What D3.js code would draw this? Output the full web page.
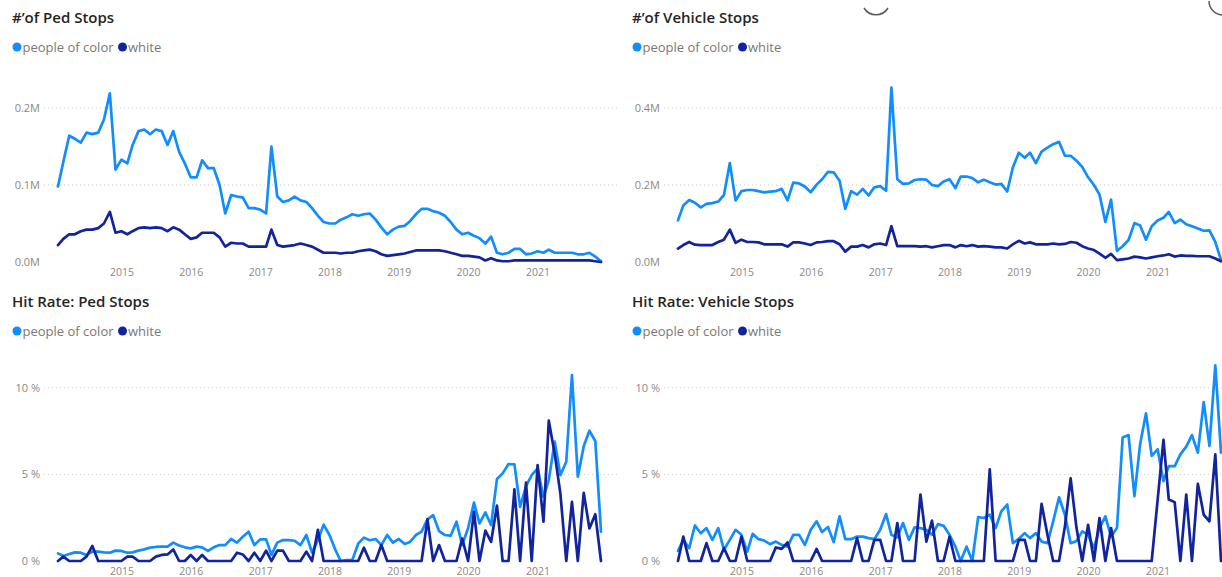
<!DOCTYPE html>
<html>
<head>
<meta charset="utf-8">
<script src="https://cdn.jsdelivr.net/npm/d3@7"></script>
<style>
  html, body { margin: 0; padding: 0; background: #ffffff; }
  svg { display: block; font-family: "Segoe UI", "Open Sans", "Noto Sans", sans-serif; }
</style>
</head>
<body>
<svg id="chart" width="1222" height="577"></svg>
<script>
// ---- categories: monthly, Feb 2014 – Dec 2021 ----
const firstMonth = new Date(2014, 1, 1);
const lastMonthExclusive = new Date(2022, 0, 1);
const months = d3.timeMonth.range(firstMonth, lastMonthExclusive);

const seriesNames = ["people of color", "white"];
const seriesColors = ["#118DFF", "#12239E"];

// ---- # of Ped Stops (thousands) ----
const pedStopsPOC = [98,130,164,160,155,168,166,168,185,219,
  120,133,128,152,170,172,166,172,170,152,
  170,143,128,110,110,132,122,122,100,63,
  87,85,84,70,70,68,63,150,85,78,
  80,85,80,78,70,60,52,50,50,55,
  58,62,60,62,63,55,45,36,42,46,
  47,53,62,69,69,66,64,60,52,42,
  36,38,34,31,24,33,12,10,12,17,
  17,10,11,14,12,16,12,12,12,12,
  10,10,12,7,1];
const pedStopsWhite = [22,30,36,36,40,42,42,44,50,65,
  38,40,36,40,44,45,44,45,44,40,
  45,42,36,30,32,38,38,38,32,20,
  25,24,24,20,20,20,20,42,22,20,
  21,22,24,22,20,16,12,12,12,11,
  12,12,14,15,16,14,10,8,9,10,
  11,13,15,15,15,15,15,14,12,10,
  8,8,7,6,2,5,2,1,1,2,
  2,2,2,2,2,2,2,2,2,2,
  2,2,2,1,0];

// ---- # of Vehicle Stops (thousands) ----
const vehStopsPOC = [108,147,161,154,142,151,153,157,174,257,
  160,184,187,187,184,181,183,184,190,160,
  206,204,196,181,201,215,234,233,211,138,
  184,175,190,173,194,197,185,453,215,203,
  204,213,215,214,200,197,209,215,192,222,
  222,218,207,214,207,201,203,183,246,284,
  271,284,257,287,297,306,312,276,276,263,
  247,220,200,175,104,162,29,41,57,101,
  95,58,93,108,115,130,101,110,98,93,
  87,81,82,52,5];
const vehStopsWhite = [35,44,52,45,44,44,44,52,58,84,
  50,58,52,52,51,46,46,46,46,40,
  51,51,48,44,51,52,54,54,46,27,
  40,40,44,38,46,48,44,93,41,41,
  41,41,40,41,38,41,44,44,38,44,
  41,44,40,41,40,38,38,35,46,55,
  48,51,46,46,46,48,46,47,52,50,
  41,35,31,22,11,21,5,7,9,14,
  12,9,12,15,17,20,14,17,16,16,
  15,15,15,9,2];

// ---- Hit Rate: Ped Stops (%) ----
const pedHitPOC = [0.44,0.29,0.4,0.5,0.48,0.35,0.54,0.54,0.5,0.48,
  0.6,0.58,0.48,0.5,0.6,0.67,0.77,0.81,0.83,0.83,
  1.06,0.9,0.79,0.73,0.83,0.79,0.58,0.79,0.92,0.92,
  1.27,1.06,1.4,1.69,0.92,1.25,1.25,0.35,1.06,1.21,
  1.21,1.17,0.92,1.5,0.48,1.2,2.1,1.5,0.64,0,
  0.05,0.05,1.0,1.35,1.2,1.27,0.92,1.5,1.06,1.27,
  0.98,1.1,1.5,1.7,2.4,2.65,1.73,1.5,1.46,2.27,
  0.92,1.9,3.37,2.17,2.8,2.08,4.73,5.06,5.6,5.58,
  3.13,4.33,4.96,5.35,3.7,4.67,6.9,4.96,5.73,10.73,
  4.87,6.63,7.52,6.92,1.7];
const pedHitWhite = [0,0.25,0,0,0,0.25,0.87,0,0,0,
  0,0,0.25,0.25,0,0,0,0.25,0.35,0.38,
  0.67,0,0,0.35,0,0.35,0,0,0,0,
  0,0.48,0.38,0,0.48,0,0.6,0,0.6,0.6,
  0,0,0,0.54,0,1.8,0,0,0,0,
  0,0,0,0.77,0,0,0.92,0,0,0,
  0,0,0,0,2.4,0,0.92,0,0,0,
  1.3,0,2.85,0,1.75,1.1,3.2,0,0,4.13,
  0,4.52,0,5.54,2.27,8.1,6.2,3.9,0,3.42,
  0,3.94,1.88,2.7,0];

// ---- Hit Rate: Vehicle Stops (%) ----
const vehHitPOC = [0.58,1.22,0.74,2.05,1.6,1.9,1.22,1.9,0.64,1.22,
  1.8,1.51,0.54,1.57,1.26,1.18,0.97,1.12,0.93,0.83,
  1.51,1.51,0.93,1.8,2.29,1.67,1.96,1.09,2.58,1.26,
  1.26,1.41,1.41,1.32,1.26,1.8,2.71,1.51,1.36,2.19,
  1.22,1.94,1.9,1.8,1.51,2.13,2.03,1.51,0.83,0,
  0.83,0,2.54,2.48,2.67,1.9,2.87,3.26,1.03,1.28,
  1.61,1.32,1.61,1.12,1.03,2.29,3.68,2.67,1.03,1.16,
  1.71,1.51,0.74,1.9,2.58,1.41,1.9,7.13,7.27,3.74,
  6.74,8.53,6.07,6.45,4.61,5.48,5.48,6.16,6.6,7.27,
  6.26,9.17,6.65,11.3,6.26];
const vehHitWhite = [0,1.41,0,0,0,1.03,0,0,0.74,0,
  0,1.41,0,0,0,0,0,0.78,0.7,1.07,
  0,0,0,0,0.7,0,0,0,0,0,
  0,1.32,0,0,1.22,1.22,0,0,2.19,0,
  0,0,3.84,1.12,2.33,0,0,1.4,0,0,
  0,0,0,0,5.29,0,0,0,0,1.22,
  1.22,0,0,3.3,1.51,0,0,2.0,4.77,1.9,
  0,2.09,0,2.48,0,1.9,0,0,0,0,
  0,0,0,3.5,7.0,3.55,3.4,0,3.84,0,
  4.46,2.67,2.29,6.16,0];

// ---- tick values ----
const pedStopsTicks = [0, 100, 200];
const vehStopsTicks = [0, 200, 400];
const hitTicks = [0, 5, 10];

const fmtM = d => (d / 1000).toFixed(1) + "M";
const fmtPct = d => d + " %";

const panels = [
  { title: "#\u2019of Ped Stops", dx: 0, top: true, max: 250, ticks: pedStopsTicks, fmt: fmtM, data: [pedStopsPOC, pedStopsWhite] },
  { title: "#\u2019of Vehicle Stops", dx: 620, top: true, max: 500, ticks: vehStopsTicks, fmt: fmtM, data: [vehStopsPOC, vehStopsWhite] },
  { title: "Hit Rate: Ped Stops", dx: 0, top: false, max: 12, ticks: hitTicks, fmt: fmtPct, data: [pedHitPOC, pedHitWhite] },
  { title: "Hit Rate: Vehicle Stops", dx: 620, top: false, max: 12, ticks: hitTicks, fmt: fmtPct, data: [vehHitPOC, vehHitWhite] }
];

const svg = d3.select("#chart");
const fontStack = "\"Segoe UI\", \"Open Sans\", \"Noto Sans\", sans-serif";

panels.forEach(p => {
  const g = svg.append("g").attr("transform", `translate(${p.dx},${p.top ? 0 : 284})`);
  const base = p.top ? 262 : 277;           // zero line (local coords)
  const unit = p.top ? 77 : 86.6;           // px per tick step
  const step = p.ticks[1];
  const y = d3.scaleLinear().domain([0, p.max]).range([base, base - unit * p.max / step]);
  const x = d3.scaleTime().domain([months[0], months[months.length - 1]]).range([58, 601]);

  // title
  g.append("text").attr("x", 12).attr("y", 23)
    .attr("font-size", 15).attr("font-weight", 600).attr("fill", "#252423")
    .text(p.title);

  // legend
  const leg = g.append("g").attr("transform", "translate(0,47)");
  let lx = 17;
  seriesNames.forEach((name, i) => {
    leg.append("circle").attr("cx", lx).attr("cy", 0).attr("r", 4.5).attr("fill", seriesColors[i]);
    const t = leg.append("text").attr("x", lx + 5.5).attr("y", 4.5)
      .attr("font-size", 13).attr("fill", "#7a7876").text(name);
    lx += 5.5 + t.node().getComputedTextLength() + 9;
  });

  // gridlines
  g.append("g").selectAll("line").data(p.ticks.filter(d => d > 0)).join("line")
    .attr("x1", 44).attr("x2", 618)
    .attr("y1", d => y(d)).attr("y2", d => y(d))
    .attr("stroke", "#cccccc").attr("stroke-width", 1).attr("stroke-dasharray", "1,3");

  // y axis
  const ya = g.append("g").attr("transform", "translate(40,0)")
    .call(d3.axisLeft(y).tickValues(p.ticks).tickFormat(p.fmt).tickSize(0).tickPadding(0));
  ya.select(".domain").remove();
  ya.selectAll("text").attr("font-size", 11).attr("fill", "#8a8886").attr("font-family", fontStack);

  // x axis
  const xa = g.append("g").attr("transform", `translate(0,${base})`)
    .call(d3.axisBottom(x).ticks(d3.timeYear.every(1)).tickFormat(d3.timeFormat("%Y")).tickSize(0).tickPadding(7));
  xa.select(".domain").remove();
  xa.selectAll("text").attr("font-size", 10.5).attr("fill", "#8a8886").attr("font-family", fontStack);

  // lines
  const line = d3.line().x((d, i) => x(months[i])).y(d => y(d));
  p.data.forEach((vals, i) => {
    g.append("path").datum(vals)
      .attr("d", line)
      .attr("fill", "none")
      .attr("stroke", seriesColors[i])
      .attr("stroke-width", 2.7)
      .attr("stroke-linejoin", "round")
      .attr("stroke-linecap", "round");
  });
});

// small partially visible icon arcs at the top edge
svg.append("path").attr("d", "M864,8 A14,14 0 0,0 888,8")
  .attr("fill", "none").attr("stroke", "#5a5a5a").attr("stroke-width", 1.5);
svg.append("path").attr("d", "M1209,1 A14,14 0 0,0 1222,15")
  .attr("fill", "none").attr("stroke", "#5a5a5a").attr("stroke-width", 1.5);
</script>
</body>
</html>
